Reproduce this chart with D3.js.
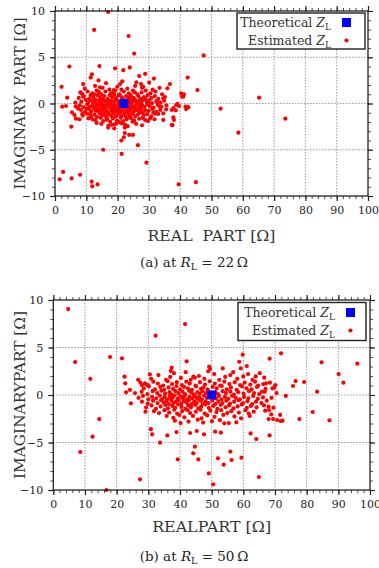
<!DOCTYPE html>
<html>
<head>
<meta charset="utf-8">
<script src="https://cdn.jsdelivr.net/npm/d3@7"></script>
<style>
  body { margin: 0; background: #fff; }
  svg { display: block; }
  svg text { font-family: "DejaVu Serif", "Liberation Serif", serif; }
</style>
</head>
<body>
<svg id="chart" width="379" height="568"></svg>
<script>
// ticks
const xTicks = [0, 10, 20, 30, 40, 50, 60, 70, 80, 90, 100];
const yTicks = [-10, -5, 0, 5, 10];

// theoretical load impedance [real, imag]
const theoreticalA = [[22, 0]];
const theoreticalB = [[50, 0]];

// estimated Z_L at R_L = 22 ohm  [real, imag]
const estimatedA = [
  // scattered points
  [17.0, 9.9], [12.5, 7.95], [23.5, 7.3], [25.3, 5.4], [47.5, 5.2], [4.6, 4.0], [14.2, 4.05],
  [19.2, 3.8], [23.9, 3.9], [21.8, 3.6], [36.7, 2.1], [42.4, 2.8], [45.5, 1.45], [65.2, 0.63],
  [40.3, 1.1], [41.2, 1.0], [41.0, 0.75], [40.6, 0.75], [39.1, -0.05], [39.6, -0.27], [37.8, -0.5],
  [38.6, -0.74], [41.7, -0.34], [42.6, -0.4], [41.9, -0.6], [52.9, -0.56], [73.6, -1.64], [38.0, -1.78],
  [37.5, -2.36], [58.6, -3.15], [5.2, -2.5], [17.0, -2.6], [18.9, -2.7], [22.3, -2.6], [22.3, -3.2],
  [23.7, -3.4], [24.9, -3.4], [22.0, -3.65], [21.2, -4.0], [26.5, -4.5], [15.4, -5.0], [21.3, -5.45],
  [29.2, -6.4], [2.6, -7.4], [1.5, -8.2], [5.3, -8.1], [8.0, -7.7], [11.7, -8.45], [11.9, -8.95],
  [13.6, -8.75], [39.5, -8.74], [45.0, -8.5], [2.1, 1.8], [9.0, 2.1], [11.4, 2.8], [11.8, 3.15],
  [14.4, 1.75], [14.0, 1.25], [3.9, 0.63], [2.3, -0.34], [3.5, -0.27], [6.5, 0.1], [6.6, -0.3],
  [5.4, -0.95], [6.2, -1.24], [7.8, -1.7], [6.7, -1.64], [8.6, 1.06], [9.0, 0.73], [7.4, -0.56],
  [8.7, -1.14], [10.1, -0.56], [11.2, -1.14], [12.0, -1.7], [13.3, -2.1], [16.5, -1.75], [19.7, -2.1],
  [18.2, -2.3], [26.9, 2.97], [28.8, 3.2], [31.6, 2.7], [30.1, 2.25], [27.5, 2.1], [28.2, 1.8],
  [35.9, 1.64], [20.8, 2.1], [18.8, 1.46], [34.6, 0.56], [32.5, 0.2], [33.5, -0.34], [35.5, -0.63],
  [34.6, -1.06], [37.3, -0.7], [38.7, -0.16], [37.8, -1.5], [34.6, -1.78], [30.4, -1.6], [28.8, -1.78],
  [24.8, -1.97], [22.4, -2.32], [20.8, -2.07], [37.3, -2.3], [31.4, -1.0], [33.0, -1.13],
  // main cluster
  [9.5, 1.6], [12.8, 1.9], [15.2, 1.7], [17.4, 1.5], [19.9, 1.8], [23.1, 1.6], [25.6, 1.9], [27.8, 1.7],
  [31.2, 1.5], [33.4, 1.7], [16.3, 2.2], [21.5, 2.4], [26.0, 2.3], [13.9, 2.5],
  [8.1, 1.2], [10.4, 1.3], [11.9, 1.1], [13.3, 1.4], [14.8, 1.0], [16.1, 1.3], [17.9, 1.1], [19.2, 1.4],
  [20.6, 1.0], [22.0, 1.3], [23.6, 1.1], [24.9, 1.4], [26.3, 1.0], [27.7, 1.2], [29.0, 1.4], [30.5, 1.1],
  [32.1, 1.3], [34.2, 1.0], [12.5, 1.0], [18.7, 1.2], [21.2, 1.5], [25.5, 1.2],
  [7.6, 0.6], [9.2, 0.8], [10.9, 0.5], [12.2, 0.7], [13.6, 0.9], [14.4, 0.6], [15.7, 0.8], [16.8, 0.5],
  [17.5, 0.9], [18.3, 0.7], [19.6, 0.6], [20.4, 0.9], [21.3, 0.7], [22.7, 0.8], [23.4, 0.5], [24.2, 0.9],
  [25.1, 0.6], [26.6, 0.8], [27.3, 0.5], [28.4, 0.7], [29.6, 0.9], [30.8, 0.6], [31.9, 0.8], [33.0, 0.5],
  [35.1, 0.7], [11.4, 0.9], [15.0, 0.5], [19.0, 0.95], [23.9, 0.7], [28.9, 0.55],
  [8.4, 0.2], [9.8, 0.4], [10.6, 0.1], [11.7, 0.3], [12.9, 0.45], [13.2, 0.05], [14.1, 0.3], [14.9, 0.15],
  [15.5, 0.4], [16.2, 0.2], [16.9, 0.35], [17.6, 0.05], [18.0, 0.3], [18.8, 0.15], [19.4, 0.45], [20.1, 0.25],
  [20.7, 0.05], [21.4, 0.4], [22.9, 0.3], [23.5, 0.1], [24.1, 0.35], [24.8, 0.2], [25.4, 0.45], [26.1, 0.1],
  [26.8, 0.3], [27.6, 0.15], [28.2, 0.4], [29.3, 0.2], [30.1, 0.35], [31.0, 0.05], [32.4, 0.25], [33.7, 0.1],
  [34.9, 0.3], [12.3, 0.2], [17.2, 0.25], [21.9, 0.45], [25.8, 0.3], [29.8, 0.0],
  [7.9, -0.2], [9.1, -0.4], [10.3, -0.1], [11.2, -0.35], [12.0, -0.15], [12.7, -0.45], [13.5, -0.25],
  [14.3, -0.05], [14.7, -0.4], [15.3, -0.2], [15.9, -0.45], [16.5, -0.1], [17.1, -0.3], [17.8, -0.05],
  [18.4, -0.4], [18.9, -0.2], [19.5, -0.35], [20.2, -0.1], [20.8, -0.45], [21.1, -0.25], [21.7, -0.05],
  [22.5, -0.4], [23.0, -0.2], [23.8, -0.35], [24.4, -0.1], [25.0, -0.45], [25.7, -0.25], [26.4, -0.05],
  [27.0, -0.4], [27.9, -0.2], [28.6, -0.35], [29.5, -0.1], [30.3, -0.3], [31.5, -0.45], [32.8, -0.15],
  [34.0, -0.35], [35.6, -0.2], [13.0, -0.3], [16.0, -0.25], [19.0, -0.5], [22.2, -0.3], [24.7, -0.3], [27.4, -0.15],
  [8.3, -0.7], [9.6, -0.9], [10.8, -0.6], [11.6, -0.85], [12.4, -0.55], [13.1, -0.8], [13.8, -0.65],
  [14.5, -0.95], [15.1, -0.6], [15.8, -0.85], [16.4, -0.7], [17.0, -0.95], [17.7, -0.55], [18.2, -0.8],
  [18.9, -0.65], [19.7, -0.9], [20.3, -0.6], [20.9, -0.85], [21.6, -0.7], [22.4, -0.95], [23.2, -0.6],
  [23.9, -0.8], [24.6, -0.55], [25.2, -0.9], [25.9, -0.7], [26.7, -0.85], [27.5, -0.6], [28.1, -0.95],
  [28.8, -0.7], [29.9, -0.8], [31.1, -0.6], [32.3, -0.9], [33.6, -0.7], [14.0, -0.75], [19.3, -0.75],
  [22.8, -0.75], [26.2, -0.6],
  [8.9, -1.3], [10.2, -1.1], [11.5, -1.4], [12.6, -1.2], [13.4, -1.45], [14.2, -1.05], [15.0, -1.3],
  [15.6, -1.15], [16.3, -1.45], [17.3, -1.2], [18.0, -1.35], [18.6, -1.05], [19.4, -1.4], [20.0, -1.2],
  [20.6, -1.0], [21.2, -1.35], [21.9, -1.15], [22.6, -1.45], [23.3, -1.05], [24.0, -1.3], [24.8, -1.1],
  [25.6, -1.4], [26.5, -1.2], [27.2, -1.0], [28.3, -1.3], [29.4, -1.15], [30.7, -1.4], [32.0, -1.1],
  [16.8, -1.1], [23.7, -1.4],
  [10.7, -1.6], [12.9, -1.8], [14.6, -1.55], [15.4, -1.9], [16.7, -1.65], [17.6, -1.95], [18.5, -1.6],
  [19.8, -1.85], [21.0, -1.55], [21.8, -1.9], [22.9, -1.7], [24.3, -1.6], [25.3, -1.85], [26.9, -1.65],
  [28.0, -1.55], [29.7, -1.9], [31.8, -1.7], [20.4, -2.0],
  [14.8, -2.2], [17.1, -2.4], [19.1, -2.25], [21.4, -2.15], [23.2, -2.45], [25.9, -2.2], [27.8, -2.35]
];

// estimated Z_L at R_L = 50 ohm  [real, imag]
const estimatedB = [
  // scattered points
  [4.7, 9.05], [41.6, 7.47], [32.3, 6.25], [81.4, 7.7], [71.9, 6.56], [74.9, 6.4], [6.9, 3.47],
  [17.9, 4.0], [21.7, 3.86], [11.7, 1.7], [42.1, 3.54], [59.8, 4.25], [71.9, 4.39], [68.3, 3.82],
  [84.7, 3.44], [96.0, 3.3], [90.1, 2.2], [91.6, 1.3], [83.3, 0.35], [79.2, 1.37], [76.5, 1.47],
  [75.7, 0.95], [73.4, -0.1], [22.5, 1.93], [22.7, 1.23], [23.0, 0.28], [24.5, -0.88], [24.2, 0.53],
  [29.1, -1.75], [14.5, -2.53], [12.4, -4.39], [8.5, -6.0], [16.8, -10.0], [27.4, -8.88], [33.7, -5.02],
  [30.8, -3.6], [31.2, -4.14], [36.0, -4.25], [39.3, -6.77], [38.9, -3.9], [44.7, -5.44], [44.2, -6.14],
  [45.8, -6.77], [43.2, -4.0], [45.3, -3.79], [47.6, -4.14], [49.1, -8.25], [50.5, -9.4], [51.1, -3.86],
  [52.9, -3.96], [52.0, -6.67], [53.8, -7.33], [55.9, -5.96], [56.3, -6.84], [59.4, -6.6], [62.3, -4.04],
  [64.1, -4.63], [64.9, -8.63], [68.3, -4.25], [55.4, -2.95], [54.0, -2.98], [57.8, -2.88], [61.7, -1.96],
  [77.7, -2.53], [81.9, -1.79], [87.2, -2.67], [71.8, -2.74], [72.4, -2.7], [70.7, -2.63], [69.4, -2.53],
  [68.0, -2.53], [71.6, -2.1], [68.8, -2.04], [68.1, -1.58], [69.5, -1.33], [68.0, -1.23],
  [37.4, 2.88], [37.1, 2.53], [30.5, 2.18], [28.0, 1.05], [28.9, 1.23], [29.8, 1.05], [44.2, 1.93],
  [44.7, 1.82], [49.2, 2.98], [49.5, 2.74], [53.5, 2.8], [55.9, 2.1], [58.7, 3.5], [59.2, 2.8],
  [60.0, 1.96], [61.1, 3.05], [63.9, 1.96], [66.6, 1.82], [67.2, 1.23], [69.2, 0.7], [64.7, 1.0], [65.9, 0.35],
  // main cluster
  [30.9, 1.7], [33.2, 2.1], [35.6, 1.6], [38.1, 2.3], [40.3, 1.8], [41.8, 2.4], [43.4, 1.6], [46.0, 2.0],
  [47.7, 1.7], [50.8, 2.2], [52.4, 1.6], [54.3, 1.9], [56.8, 2.4], [58.1, 1.7], [61.5, 2.2], [62.9, 1.6],
  [65.2, 2.3], [26.8, 1.6], [36.9, 1.9], [48.9, 2.5],
  [27.5, 1.3], [29.4, 1.1], [31.6, 1.4], [33.0, 1.2], [34.7, 1.0], [36.1, 1.45], [37.5, 1.15], [39.0, 1.35],
  [40.6, 1.05], [42.0, 1.4], [43.1, 1.2], [44.9, 1.0], [46.3, 1.35], [47.9, 1.1], [49.4, 1.45], [51.0, 1.2],
  [52.7, 1.0], [54.0, 1.4], [55.6, 1.15], [57.3, 1.35], [59.0, 1.05], [60.4, 1.3], [62.2, 1.1], [63.7, 1.4],
  [66.3, 1.15], [68.4, 1.3], [70.1, 1.05],
  [28.6, 0.7], [30.2, 0.9], [32.1, 0.6], [33.8, 0.85], [35.0, 0.55], [36.4, 0.8], [37.8, 0.65], [38.9, 0.95],
  [40.0, 0.6], [41.3, 0.85], [42.5, 0.7], [43.8, 0.55], [45.1, 0.9], [46.6, 0.65], [47.4, 0.8], [48.7, 0.6],
  [50.3, 0.85], [51.6, 0.7], [53.2, 0.95], [54.8, 0.6], [56.1, 0.8], [57.9, 0.55], [59.6, 0.9], [61.0, 0.7],
  [62.6, 0.6], [64.3, 0.85], [67.0, 0.65], [69.8, 0.8],
  [25.8, 0.2], [27.9, 0.35], [29.7, 0.1], [31.4, 0.4], [32.8, 0.2], [34.1, 0.45], [35.3, 0.15], [36.7, 0.3],
  [37.4, 0.05], [38.6, 0.4], [39.5, 0.2], [40.8, 0.35], [41.6, 0.1], [42.9, 0.45], [43.6, 0.25], [44.4, 0.05],
  [45.5, 0.3], [46.2, 0.15], [47.1, 0.4], [48.2, 0.2], [49.0, 0.35], [51.2, 0.3], [52.0, 0.1], [53.5, 0.4],
  [54.5, 0.2], [55.9, 0.35], [57.0, 0.05], [58.4, 0.3], [60.1, 0.15], [61.8, 0.4], [63.4, 0.2], [65.0, 0.1],
  [66.8, 0.35], [70.5, 0.2],
  [26.9, -0.3], [28.3, -0.1], [30.0, -0.45], [31.2, -0.2], [32.5, -0.35], [33.6, -0.05], [34.4, -0.4],
  [35.2, -0.2], [36.0, -0.45], [36.8, -0.1], [37.7, -0.3], [38.3, -0.05], [39.2, -0.4], [40.1, -0.15],
  [40.9, -0.35], [41.5, -0.05], [42.3, -0.45], [43.0, -0.2], [43.9, -0.35], [44.6, -0.1], [45.4, -0.4],
  [46.1, -0.25], [46.9, -0.45], [47.6, -0.05], [48.4, -0.3], [49.3, -0.15], [51.4, -0.35], [52.3, -0.1],
  [53.1, -0.45], [54.2, -0.2], [55.3, -0.4], [56.5, -0.1], [57.6, -0.3], [58.9, -0.45], [60.2, -0.2],
  [61.6, -0.35], [63.1, -0.1], [64.6, -0.4], [66.2, -0.25], [68.9, -0.3], [37.1, -0.25], [41.1, -0.25], [45.0, -0.15],
  [28.0, -0.7], [29.8, -0.9], [31.5, -0.6], [32.9, -0.85], [34.0, -0.55], [34.9, -0.8], [35.7, -0.65],
  [36.5, -0.95], [37.3, -0.6], [38.0, -0.85], [38.8, -0.7], [39.6, -0.55], [40.4, -0.9], [41.2, -0.65],
  [42.1, -0.8], [42.8, -0.55], [43.7, -0.95], [44.5, -0.7], [45.3, -0.85], [46.4, -0.6], [47.2, -0.9],
  [48.1, -0.7], [49.0, -0.85], [50.2, -0.6], [51.1, -0.95], [52.1, -0.7], [53.4, -0.85], [54.6, -0.6],
  [55.8, -0.9], [57.1, -0.7], [58.5, -0.55], [59.9, -0.85], [61.3, -0.65], [62.8, -0.95], [64.0, -0.7],
  [65.7, -0.85], [67.4, -0.6],
  [29.3, -1.3], [31.0, -1.1], [32.4, -1.45], [33.9, -1.2], [35.4, -1.05], [36.2, -1.4], [37.6, -1.15],
  [38.5, -1.35], [39.4, -1.0], [40.5, -1.25], [41.7, -1.45], [42.6, -1.1], [43.5, -1.3], [44.8, -1.05],
  [45.8, -1.4], [46.7, -1.2], [48.0, -1.0], [49.1, -1.35], [50.5, -1.15], [51.8, -1.45], [52.9, -1.05],
  [54.4, -1.3], [55.5, -1.1], [56.9, -1.4], [58.2, -1.2], [59.5, -1.0], [61.1, -1.35], [62.4, -1.15],
  [64.2, -1.3], [66.5, -1.1],
  [31.8, -1.7], [33.4, -1.9], [35.1, -1.6], [36.6, -1.85], [38.2, -1.55], [39.1, -1.95], [40.7, -1.7],
  [42.4, -1.6], [43.2, -1.9], [45.0, -1.75], [46.5, -1.55], [47.8, -1.95], [49.6, -1.65], [51.5, -1.8],
  [53.0, -1.6], [54.9, -1.9], [56.2, -1.7], [58.6, -1.85], [60.7, -1.6], [63.3, -1.75], [66.9, -1.65],
  [35.8, -2.2], [37.9, -2.4], [39.8, -2.1], [41.4, -2.35], [44.1, -2.2], [46.8, -2.45], [48.6, -2.15],
  [50.9, -2.3], [53.7, -2.1], [57.2, -2.25], [59.3, -2.45], [62.0, -2.2],
  [38.4, -2.7], [40.2, -2.95], [42.7, -2.8], [45.6, -2.6], [47.3, -2.9], [50.1, -2.75], [52.6, -2.65]
];

const panels = [
  { est: estimatedA, theo: theoreticalA, left: 55, right: 368, top: 11, bottom: 196,
    xLabel: "REAL  PART [\u03A9]", xLen: 128, yLabel: "IMAGINARY  PART [\u03A9]", yLen: 172,
    xLabelY: 241, tag: "(a)", rl: "22", captionY: 267,
    legend: { x0: 237, y0: 13, x1: 365, y1: 49, textX: 331, markX: 346.5, row1: 27, row2: 45 } },
  { est: estimatedB, theo: theoreticalB, left: 53.3, right: 370, top: 300, bottom: 490,
    xLabel: "REALPART [\u03A9]", xLen: 119, yLabel: "IMAGINARYPART [\u03A9]", yLen: 168,
    xLabelY: 532, tag: "(b)", rl: "50", captionY: 561,
    legend: { x0: 238, y0: 302.5, x1: 366, y1: 340.5, textX: 335, markX: 350.5, row1: 317, row2: 335 } }
];

const svg = d3.select("#chart");
const ink = "#222";
const serif = "DejaVu Serif, Liberation Serif, serif";

panels.forEach(p => {
  const x = d3.scaleLinear().domain([0, 100]).range([p.left, p.right]);
  const y = d3.scaleLinear().domain([-10, 10]).range([p.bottom, p.top]);
  const g = svg.append("g");

  // dotted grid
  g.append("g").selectAll("line").data(xTicks.slice(1, -1)).join("line")
    .attr("x1", d => x(d)).attr("x2", d => x(d)).attr("y1", p.top).attr("y2", p.bottom)
    .attr("stroke", "#999").attr("stroke-width", 1).attr("stroke-dasharray", "1.5,1.5");
  g.append("g").selectAll("line").data(yTicks.slice(1, -1)).join("line")
    .attr("y1", d => y(d)).attr("y2", d => y(d)).attr("x1", p.left).attr("x2", p.right)
    .attr("stroke", "#999").attr("stroke-width", 1).attr("stroke-dasharray", "1.5,1.5");

  // minor ticks on all four sides
  const xMinor = d3.range(0, 101, 2), yMinor = d3.range(-10, 11, 1);
  const minor = [
    [d3.axisBottom(x).tickValues(xMinor), `translate(0,${p.bottom})`],
    [d3.axisTop(x).tickValues(xMinor), `translate(0,${p.top})`],
    [d3.axisLeft(y).tickValues(yMinor), `translate(${p.left},0)`],
    [d3.axisRight(y).tickValues(yMinor), `translate(${p.right},0)`]
  ];
  minor.forEach(([ax, tr]) => {
    const a = g.append("g").attr("transform", tr)
      .call(ax.tickSize(3).tickSizeOuter(0).tickFormat(""));
    a.select(".domain").remove();
    a.selectAll("line").attr("stroke", ink).attr("stroke-width", 0.8);
  });

  // major ticks + labels
  const xb = g.append("g").attr("transform", `translate(0,${p.bottom})`)
    .call(d3.axisBottom(x).tickValues(xTicks).tickSize(5).tickSizeOuter(0).tickPadding(5));
  const xt = g.append("g").attr("transform", `translate(0,${p.top})`)
    .call(d3.axisTop(x).tickValues(xTicks).tickSize(5).tickSizeOuter(0).tickFormat(""));
  const yl = g.append("g").attr("transform", `translate(${p.left},0)`)
    .call(d3.axisLeft(y).tickValues(yTicks).tickSize(5).tickSizeOuter(0).tickPadding(5));
  const yr = g.append("g").attr("transform", `translate(${p.right},0)`)
    .call(d3.axisRight(y).tickValues(yTicks).tickSize(5).tickSizeOuter(0).tickFormat(""));
  [xb, xt, yl, yr].forEach(a => {
    a.attr("font-family", serif).attr("font-size", 11);
    a.select(".domain").remove();
    a.selectAll("line").attr("stroke", ink).attr("stroke-width", 1.2);
    a.selectAll("text").attr("fill", ink);
  });

  // estimated points
  g.append("g").selectAll("circle").data(p.est).join("circle")
    .attr("cx", d => x(d[0])).attr("cy", d => y(d[1])).attr("r", 2.1).attr("fill", "#ff0000");

  // theoretical point
  g.append("g").selectAll("rect").data(p.theo).join("rect")
    .attr("x", d => x(d[0]) - 4.5).attr("y", d => y(d[1]) - 4.5)
    .attr("width", 9).attr("height", 9).attr("fill", "#0000ff");

  // frame
  g.append("rect").attr("x", p.left).attr("y", p.top)
    .attr("width", p.right - p.left).attr("height", p.bottom - p.top)
    .attr("fill", "none").attr("stroke", ink).attr("stroke-width", 1.3);

  // legend
  const L = p.legend;
  const lg = g.append("g").attr("font-family", serif);
  lg.append("rect").attr("x", L.x0).attr("y", L.y0).attr("width", L.x1 - L.x0).attr("height", L.y1 - L.y0)
    .attr("fill", "#fff").attr("stroke", ink).attr("stroke-width", 1.4);
  [["Theoretical ", L.row1], ["Estimated ", L.row2]].forEach(([name, yy]) => {
    const t = lg.append("text").attr("x", L.textX).attr("y", yy).attr("text-anchor", "end")
      .attr("fill", "#333").attr("font-size", 12.5);
    t.append("tspan").text(name);
    t.append("tspan").attr("font-style", "italic").text("Z");
    t.append("tspan").attr("dy", 3).attr("font-size", 9).text("L");
  });
  lg.append("rect").attr("x", L.markX - 4.5).attr("y", L.row1 - 9).attr("width", 9).attr("height", 9)
    .attr("fill", "#0000ff");
  lg.append("circle").attr("cx", L.markX).attr("cy", L.row2 - 4.5).attr("r", 2.1).attr("fill", "#ff0000");

  // axis titles
  g.append("text").attr("x", (p.left + p.right) / 2).attr("y", p.xLabelY)
    .attr("text-anchor", "middle").attr("fill", "#333").attr("font-family", serif).attr("font-size", 14)
    .attr("textLength", p.xLen).attr("lengthAdjust", "spacingAndGlyphs")
    .style("white-space", "pre").text(p.xLabel);
  g.append("text").attr("transform", `translate(25,${(p.top + p.bottom) / 2}) rotate(-90)`)
    .attr("text-anchor", "middle").attr("fill", "#333").attr("font-family", serif).attr("font-size", 14)
    .attr("textLength", p.yLen).attr("lengthAdjust", "spacingAndGlyphs")
    .style("white-space", "pre").text(p.yLabel);

  // caption
  const c = g.append("text").attr("x", 194).attr("y", p.captionY).attr("text-anchor", "middle")
    .attr("fill", "#222").attr("font-family", serif).attr("font-size", 13.5);
  c.append("tspan").text(p.tag + " at ");
  c.append("tspan").attr("font-style", "italic").text("R");
  c.append("tspan").attr("dy", 3).attr("font-size", 9.5).text("L");
  c.append("tspan").attr("dy", -3).text(" = " + p.rl + "\u2009\u03A9");
});
</script>
</body>
</html>
